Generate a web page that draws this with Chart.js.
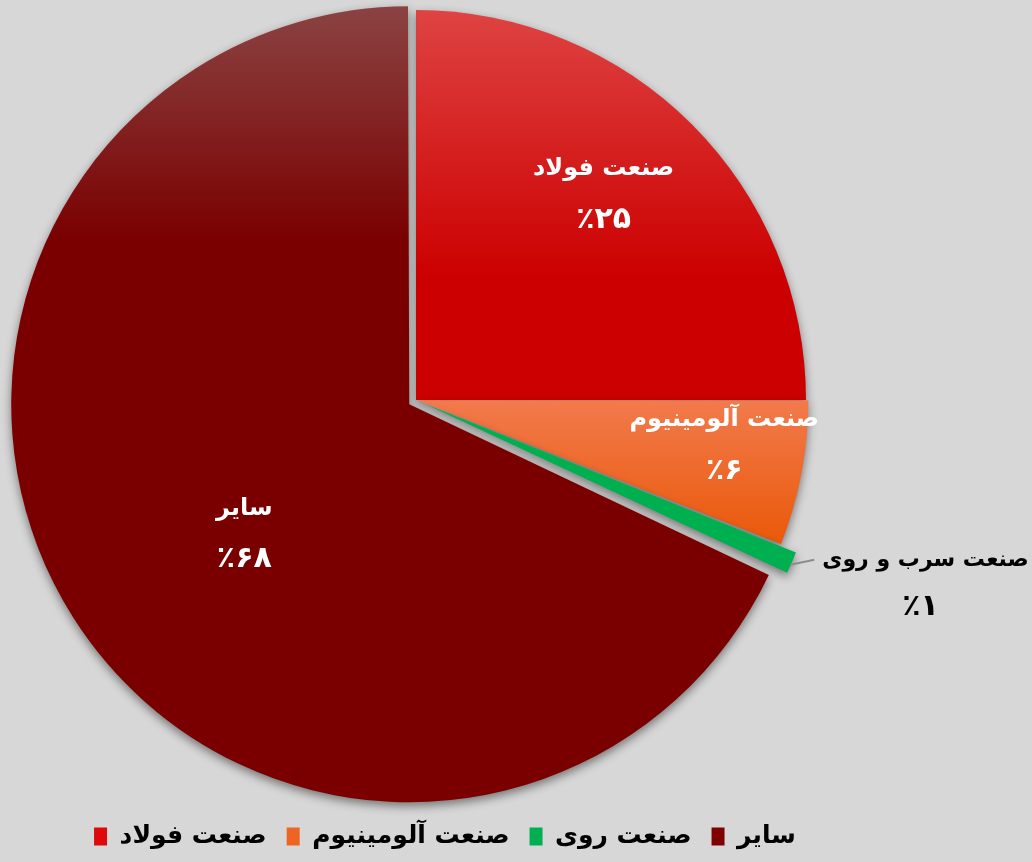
<!DOCTYPE html>
<html lang="fa">
<head>
<meta charset="utf-8">
<title>سهم صنایع</title>
<script src="https://cdn.jsdelivr.net/npm/chart.js@4/dist/chart.umd.min.js"></script>
<style>
    html, body { margin: 0; padding: 0; background: #d7d7d7; overflow: hidden; }
    #wrap { width: 1032px; height: 862px; overflow: hidden; }
    #shareChart { display: block; margin-top: -15px; }
</style>
</head>
<body>
<div id="wrap"><canvas id="shareChart" width="1032" height="880"></canvas></div>
<script>
// Chart data
const legendLabels = ['صنعت فولاد', 'صنعت آلومینیوم', 'صنعت روی', 'سایر'];
const sliceNames = ['صنعت فولاد', 'صنعت آلومینیوم', 'صنعت سرب و روی', 'سایر'];
const shares = [25, 6, 1, 68];

// Colours (solid for legend, light/dark pairs for slice gradients)
const solidColors = ['#dc0a0a', '#ee6422', '#00b050', '#800000'];
const lightColors = ['#e04848', '#f27a4c', '#00b050', '#8c4646'];
const darkColors = ['#cc0000', '#e85400', '#00b050', '#7a0000'];
// Chart.js moves a slice by offset / 4 pixels
const sliceOffsets = [0, 6, 40, 32];

// Label placement: a = fraction along the slice angle, r = fraction of radius
const labelPlacement = [
    { a: 0.47, r: 0.715, inside: true },
    { a: 0.385, r: 0.795, inside: true },
    { a: 0.5, r: 1.0, inside: false },
    { a: 0.477, r: 0.537, inside: true }
];

const FONT = '"DejaVu Sans", sans-serif';

function toPersianDigits(n) {
    return String(n).replace(/\d/g, d => '۰۱۲۳۴۵۶۷۸۹'[d]);
}

function sliceFill(context) {
    const i = context.dataIndex;
    const area = context.chart.chartArea;
    if (!area) return solidColors[i];
    const g = context.chart.ctx.createLinearGradient(0, area.top, 0, area.bottom);
    if (i === 0) {
        g.addColorStop(0, lightColors[i]);
        g.addColorStop(0.35, darkColors[i]);
        g.addColorStop(1, darkColors[i]);
    } else if (i === 1) {
        g.addColorStop(0, lightColors[i]);
        g.addColorStop(0.5, lightColors[i]);
        g.addColorStop(0.7, darkColors[i]);
        g.addColorStop(1, darkColors[i]);
    } else {
        g.addColorStop(0, lightColors[i]);
        g.addColorStop(0.3, darkColors[i]);
        g.addColorStop(1, darkColors[i]);
    }
    return g;
}

// Soft shadow beneath the pie
const shadowPlugin = {
    id: 'pieShadow',
    beforeDatasetsDraw(chart) {
        const ctx = chart.ctx;
        ctx.save();
        ctx.shadowColor = 'rgba(0, 0, 0, 0.45)';
        ctx.shadowBlur = 10;
        ctx.shadowOffsetY = 4;
    },
    afterDatasetsDraw(chart) {
        chart.ctx.restore();
    }
};

// Slice name + percentage labels
const sliceLabelPlugin = {
    id: 'sliceLabels',
    afterDraw(chart) {
        const ctx = chart.ctx;
        const meta = chart.getDatasetMeta(0);
        meta.data.forEach((arc, i) => {
            const p = arc.getProps(['x', 'y', 'startAngle', 'endAngle', 'outerRadius'], true);
            const mid = (p.startAngle + p.endAngle) / 2;
            const shift = sliceOffsets[i] / 4;
            const cx = p.x + Math.cos(mid) * shift;
            const cy = p.y + Math.sin(mid) * shift;
            const place = labelPlacement[i];
            const ang = p.startAngle + (p.endAngle - p.startAngle) * place.a;
            const name = sliceNames[i];
            const pct = '٪' + toPersianDigits(shares[i]);

            ctx.save();
            ctx.textBaseline = 'middle';
            ctx.textAlign = 'center';
            ctx.direction = 'rtl';
            if (place.inside) {
                const lx = cx + Math.cos(ang) * p.outerRadius * place.r;
                const ly = cy + Math.sin(ang) * p.outerRadius * place.r;
                ctx.fillStyle = '#ffffff';
                ctx.font = 'bold 24px ' + FONT;
                ctx.fillText(name, lx, ly - 25);
                ctx.font = 'bold 30px ' + FONT;
                ctx.fillText(pct, lx, ly + 26);
            } else {
                const ox = cx + Math.cos(ang) * (p.outerRadius + shift);
                const oy = cy + Math.sin(ang) * (p.outerRadius + shift);
                const ex = ox + 22;
                const ey = oy - 3;
                ctx.strokeStyle = '#8c8c8c';
                ctx.lineWidth = 2;
                ctx.beginPath();
                ctx.moveTo(ox - 2, oy + 2);
                ctx.lineTo(ex, ey);
                ctx.stroke();
                ctx.fillStyle = '#000000';
                ctx.font = 'bold 22px ' + FONT;
                const w = ctx.measureText(name).width;
                const tx = ex + 8 + w / 2;
                ctx.fillText(name, tx, ey);
                ctx.font = 'bold 30px ' + FONT;
                ctx.fillText(pct, tx - 5, ey + 47);
            }
            ctx.restore();
        });
    }
};

// Shift the legend a little to the right of the pie centre and slightly up
const legendShiftPlugin = {
    id: 'legendShift',
    afterLayout(chart) {
        chart.legend.left += 29;
        chart.legend.right += 29;
        chart.legend.top -= 6;
        chart.legend.bottom -= 6;
    }
};

document.addEventListener('DOMContentLoaded', function() {
    const ctx = document.getElementById('shareChart').getContext('2d');

    new Chart(ctx, {
        type: 'pie',
        data: {
            labels: legendLabels,
            datasets: [{
                data: shares,
                backgroundColor: sliceFill,
                borderWidth: 0,
                offset: sliceOffsets,
                hoverOffset: 0
            }]
        },
        options: {
            responsive: false,
            animation: false,
            devicePixelRatio: 1,
            events: [],
            layout: {
                padding: { left: 6, right: 206, top: 5, bottom: 0 }
            },
            plugins: {
                tooltip: { enabled: false },
                legend: {
                    position: 'bottom',
                    align: 'center',
                    labels: {
                        boxWidth: 13,
                        boxHeight: 18,
                        padding: 20,
                        color: '#595959',
                        font: { family: FONT, size: 25, weight: 'bold' },
                        generateLabels: function(chart) {
                            return legendLabels.map((text, i) => ({
                                text: text,
                                fillStyle: solidColors[i],
                                strokeStyle: solidColors[i],
                                lineWidth: 0,
                                hidden: false,
                                index: i
                            }));
                        }
                    }
                }
            }
        },
        plugins: [shadowPlugin, sliceLabelPlugin, legendShiftPlugin]
    });
});
</script>
</body>
</html>
